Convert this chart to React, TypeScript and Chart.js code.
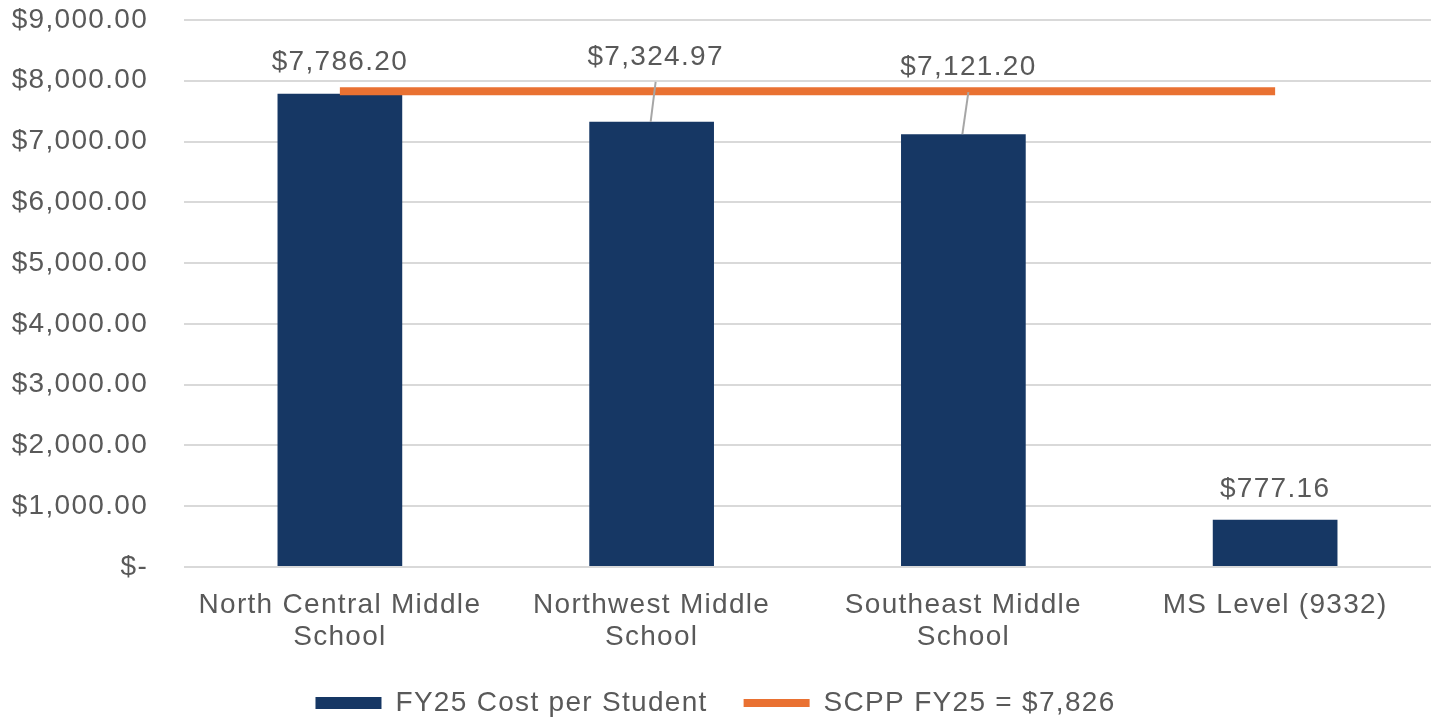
import React, { useEffect, useRef } from "react";
import { Chart, registerables } from "chart.js";

Chart.register(...registerables);

const categories: string[][] = [
  ["North Central Middle", "School"],
  ["Northwest Middle", "School"],
  ["Southeast Middle", "School"],
  ["MS Level (9332)"],
];
const costPerStudent: number[] = [7786.2, 7324.97, 7121.2, 777.16];
const scppValue = 7826;
const scppLine: number[] = categories.map(() => scppValue);
const barLabel = "FY25 Cost per Student";
const lineLabel = "SCPP FY25 = $7,826";

// label placement style (px above bar top, px shift right)
const labelLift = [31, 65, 67, 30];
const labelShift = [0, 4, 5, 0];

const FONT = "'Liberation Sans', Arial, sans-serif";
const TEXT = "#595959";
const SPACING = "1.3px";

const fmt = (v: number) =>
  "$" + v.toLocaleString("en-US", { minimumFractionDigits: 2, maximumFractionDigits: 2 });

export default function App() {
  const ref = useRef<HTMLCanvasElement | null>(null);

  useEffect(() => {
    document.body.style.margin = "0";
    document.body.style.overflow = "hidden";
    const canvas = ref.current!;
    const spacingPlugin = {
      id: "spacing",
      beforeLayout(chart: any) {
        chart.ctx.letterSpacing = SPACING;
      },
      beforeDraw(chart: any) {
        chart.ctx.letterSpacing = SPACING;
      },
    };
    const labelsPlugin = {
      id: "barLabels",
      afterDatasetsDraw(chart: any) {
        const ctx = chart.ctx;
        const meta = chart.getDatasetMeta(0);
        ctx.save();
        ctx.letterSpacing = SPACING;
        ctx.font = `28px ${FONT}`;
        ctx.fillStyle = TEXT;
        ctx.textAlign = "center";
        ctx.textBaseline = "middle";
        meta.data.forEach((bar: any, i: number) => {
          const lx = bar.x + labelShift[i];
          const ly = bar.y - labelLift[i];
          if (labelLift[i] > 45) {
            ctx.save();
            ctx.strokeStyle = "#A6A6A6";
            ctx.lineWidth = 2;
            ctx.beginPath();
            ctx.moveTo(lx, ly + 25);
            ctx.lineTo(bar.x - 1, bar.y);
            ctx.stroke();
            ctx.restore();
          }
          ctx.fillText(fmt(costPerStudent[i]), lx, ly);
        });
        ctx.restore();
      },
    };

    const chart = new Chart(canvas, {
      type: "bar",
      data: {
        labels: categories,
        datasets: [
          {
            type: "bar",
            label: barLabel,
            data: costPerStudent,
            backgroundColor: "#163764",
            borderWidth: 0,
            barPercentage: 0.4,
            categoryPercentage: 1,
            pointStyle: "rect",
            order: 1,
          } as any,
          {
            type: "line",
            label: lineLabel,
            data: scppLine,
            borderColor: "#E97132",
            backgroundColor: "#E97132",
            borderWidth: 8,
            pointRadius: 0,
            pointStyle: "line",
            order: 0,
          } as any,
        ],
      },
      options: {
        animation: false,
        responsive: true,
        maintainAspectRatio: false,
        layout: { padding: { top: 20, right: 0, left: 0, bottom: -6 } },
        plugins: {
          tooltip: { enabled: false },
          legend: {
            position: "bottom",
            labels: {
              usePointStyle: true,
              pointStyleWidth: 66,
              boxHeight: 12,
              padding: 36,
              color: TEXT,
              font: { size: 28, family: FONT },
              sort: (a: any, b: any) => a.datasetIndex - b.datasetIndex,
            },
          },
        },
        scales: {
          x: {
            offset: true,
            grid: { display: false, drawTicks: false },
            border: { display: false },
            afterFit: (s: any) => {
              s.height = 86;
            },
            ticks: {
              color: TEXT,
              padding: 22,
              maxRotation: 0,
              autoSkip: false,
              font: { size: 28, family: FONT, lineHeight: 1.15 },
            },
          },
          y: {
            min: 0,
            max: 9000,
            grid: { color: "#D9D9D9", lineWidth: 2, drawTicks: false },
            border: { display: false },
            afterFit: (s: any) => {
              s.width = 184;
              s.paddingTop = 14;
              s.paddingBottom = 14;
            },
            ticks: {
              stepSize: 1000,
              padding: 36,
              color: TEXT,
              font: { size: 28, family: FONT },
              callback: (v: any) => (Number(v) === 0 ? "$-" : fmt(Number(v))),
            },
          },
        },
      },
      plugins: [spacingPlugin, labelsPlugin],
    });
    return () => chart.destroy();
  }, []);

  return (
    <div style={{ position: "relative", width: 1431, height: 721 }}>
      <canvas ref={ref} />
    </div>
  );
}
